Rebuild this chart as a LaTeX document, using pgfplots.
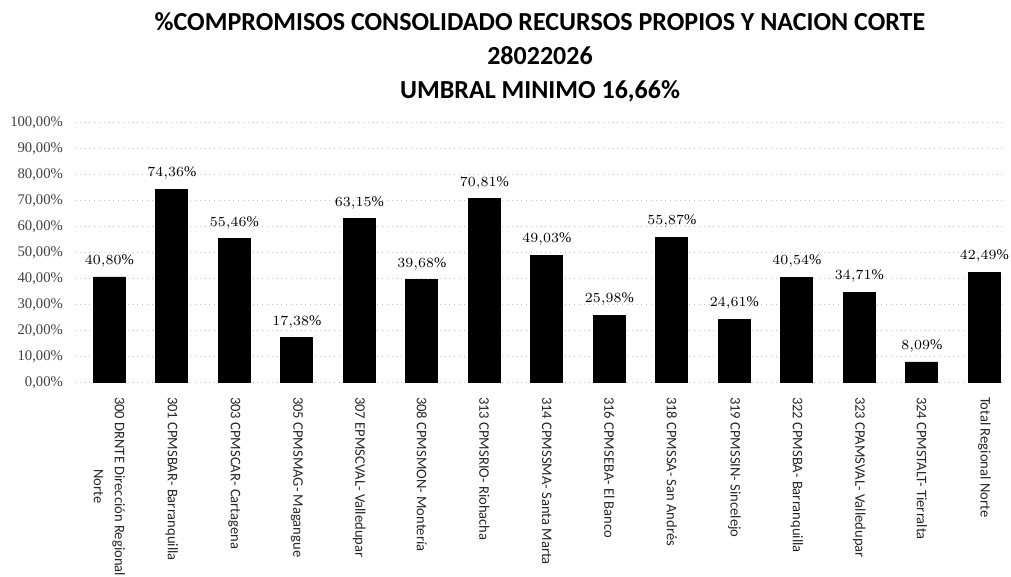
\documentclass[border=0pt]{standalone}
\usepackage{pgfplots}
\pgfplotsset{compat=1.18}
\usepackage{fontspec}
\setmainfont{Liberation Serif}
\newfontfamily\carlito{Carlito}
\begin{document}
\begin{tikzpicture}
\path[use as bounding box] (-37.5pt,-97pt) rectangle (468pt,191.5pt);
\begin{axis}[
  at={(0,0)}, anchor=south west,
  scale only axis, width=465pt, height=130pt,
  xmin=-0.55, xmax=14.33, ymin=0, ymax=100,
  axis line style={draw=none},
  major tick length=0pt,
  ymajorgrids, major grid style={dotted, gray!50, line width=0.5pt},
  ytick={0,10,...,100},
  yticklabels={{0,00\%},{10,00\%},{20,00\%},{30,00\%},{40,00\%},{50,00\%},{60,00\%},{70,00\%},{80,00\%},{90,00\%},{100,00\%}},
  yticklabel style={font=\fontsize{7.35}{9}\selectfont, xshift=-2.5pt, text=black!75},
  xtick={0,...,14},
  xticklabels={{300 DRNTE Dirección Regional\\Norte},{301 CPMSBAR- Barranquilla},{303 CPMSCAR- Cartagena},{305 CPMSMAG- Magangue},{307 EPMSCVAL- Valledupar},{308 CPMSMON- Montería},{313 CPMSRIO- Riohacha},{314 CPMSSMA- Santa Marta},{316 CPMSEBA- El Banco},{318 CPMSSA- San Andrés},{319 CPMSSIN- Sincelejo},{322 CPMSBA- Barranquilla},{323 CPAMSVAL- Valledupar},{324 CPMSTALT- Tierralta},{Total Regional Norte}},
  xticklabel style={font=\carlito\fontsize{7.3}{10.5}\selectfont, yshift=-3.5pt, rotate=-90, anchor=west, align=center, text=black!85},
  title={\%COMPROMISOS CONSOLIDADO RECURSOS PROPIOS Y NACION CORTE\\28022026\\UMBRAL MINIMO 16,66\%},
  title style={font=\carlito\bfseries\fontsize{13}{17}\selectfont, align=center, at={(0.5,1)}, anchor=south, yshift=1pt},
  ybar, bar width=16pt,
  nodes near coords={\pgfmathprintnumber[fixed,fixed zerofill,precision=2,use comma]{\pgfplotspointmeta}\%},
  every node near coord/.append style={font=\fontsize{7.35}{9}\selectfont, yshift=1.5pt, text=black},
]
\addplot[fill=black, draw=black] coordinates {
(0,40.80) (1,74.36) (2,55.46) (3,17.38) (4,63.15) (5,39.68) (6,70.81) (7,49.03)
(8,25.98) (9,55.87) (10,24.61) (11,40.54) (12,34.71) (13,8.09) (14,42.49)};
\end{axis}
\end{tikzpicture}
\end{document}
